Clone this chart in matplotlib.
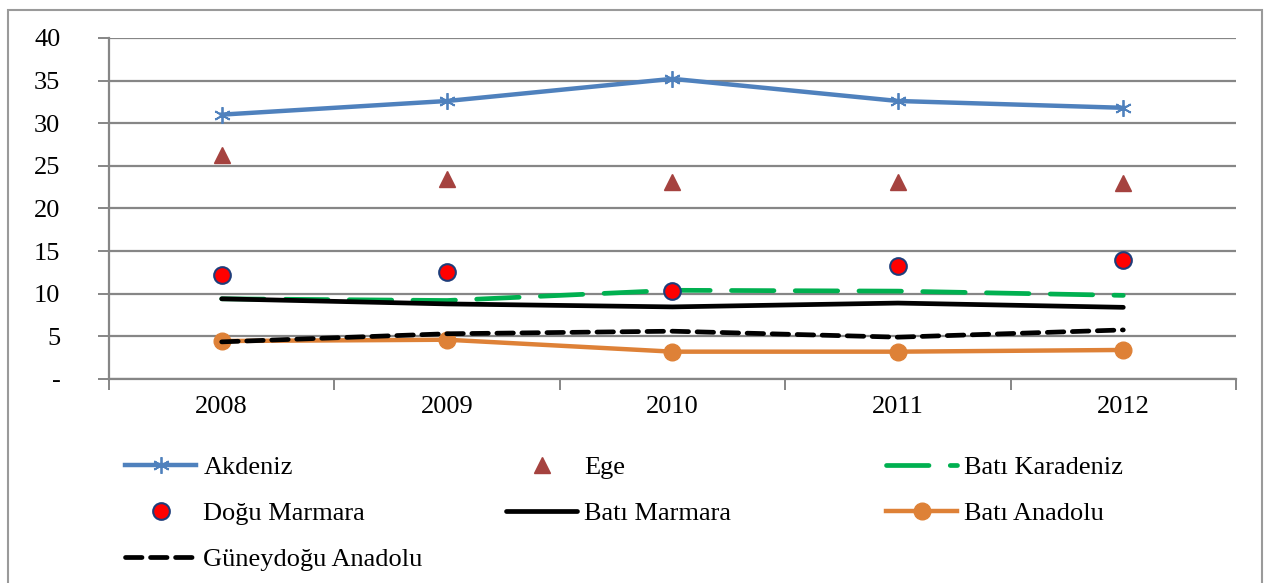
import numpy as np
import matplotlib.pyplot as plt
from matplotlib.patches import Rectangle

plt.rcParams["font.family"] = ["Liberation Serif", "DejaVu Serif"]

years = ["2008", "2009", "2010", "2011", "2012"]
akdeniz = [31.0, 32.6, 35.2, 32.6, 31.8]
ege = [26.3, 23.5, 23.1, 23.1, 23.0]
bati_karadeniz = [9.4, 9.2, 10.4, 10.3, 9.8]
dogu_marmara = [12.2, 12.55, 10.3, 13.25, 13.95]
bati_marmara = [9.4, 8.8, 8.45, 8.9, 8.4]
bati_anadolu = [4.45, 4.6, 3.2, 3.2, 3.4]
guneydogu_anadolu = [4.35, 5.3, 5.6, 4.9, 5.75]

yticks = [0, 5, 10, 15, 20, 25, 30, 35, 40]
ytick_labels = ["-", "5", "10", "15", "20", "25", "30", "35", "40"]

x = np.arange(len(years))
grid_c = "#868686"
fs = 19

fig = plt.figure(figsize=(12.66, 5.83), dpi=100)
ax = fig.add_axes([0.0861, 0.35, 0.8902, 0.585])

h_ak, = ax.plot(x, akdeniz, color="#4F81BD", lw=3.2, marker=(6, 2, 0), ms=12,
                mec="#4F81BD", mew=1.3, label="Akdeniz", zorder=5)
h_ege, = ax.plot(x, ege, ls="none", marker="^", ms=11, color="#A5423F",
                 label="Ege", zorder=5)
h_bk, = ax.plot(x, bati_karadeniz, color="#00B050", lw=3.4, dashes=(9, 4.5),
                dash_capstyle="round", label="Batı Karadeniz", zorder=4)
h_bm, = ax.plot(x, bati_marmara, color="black", lw=3.4, solid_capstyle="round",
                label="Batı Marmara", zorder=4)
h_ba, = ax.plot(x, bati_anadolu, color="#DE8137", lw=3.2, marker="o", ms=12,
                label="Batı Anadolu", zorder=4)
h_ga, = ax.plot(x, guneydogu_anadolu, color="black", lw=3.4, dashes=(3.5, 1.8),
                dash_capstyle="round", label="Güneydoğu Anadolu", zorder=4)
h_dm, = ax.plot(x, dogu_marmara, ls="none", marker="o", ms=12, mfc="#FF0000",
                mec="#1F3D7A", mew=1.5, label="Doğu Marmara", zorder=6)

ax.set_xlim(-0.5, 4.5)
ax.set_ylim(0, 40)
ax.set_yticks(yticks)
ax.set_yticklabels(ytick_labels)
ax.set_xticks(x)
ax.set_xticklabels(years)
ax.set_xticks(np.arange(-0.5, 5, 1), minor=True)
ax.tick_params(axis="x", which="major", length=0, pad=12, labelsize=fs)
ax.tick_params(axis="x", which="minor", length=8, width=1.4, color=grid_c, direction="out")
ax.tick_params(axis="y", length=8, width=1.4, color=grid_c, pad=27, labelsize=fs)
ax.yaxis.grid(True, color=grid_c, lw=1.6)
ax.set_axisbelow(True)
for s in ["top", "right"]:
    ax.spines[s].set_visible(False)
for s in ["left", "bottom"]:
    ax.spines[s].set_color(grid_c)
    ax.spines[s].set_linewidth(1.6)

# legend laid out row by row in three fixed-width columns
columns = [([h_ak, h_dm, h_ga], 125), ([h_ege, h_bm], 506), ([h_bk, h_ba], 886)]
for hs, xpix in columns:
    leg = fig.legend(handles=hs, loc="upper left", bbox_to_anchor=(xpix / 1266, 1 - 456 / 583),
                     ncol=1, frameon=False, fontsize=fs, handlelength=2.7, handletextpad=0.27,
                     labelspacing=0.85, borderaxespad=0, borderpad=0)

fig.patches.append(Rectangle((8 / 1266, -0.02), 1254 / 1266, 1.0 - 10 / 583 + 0.02,
                             transform=fig.transFigure, fill=False,
                             edgecolor="#9A9A9A", lw=1.5))

fig.savefig("out.png", dpi=100)
